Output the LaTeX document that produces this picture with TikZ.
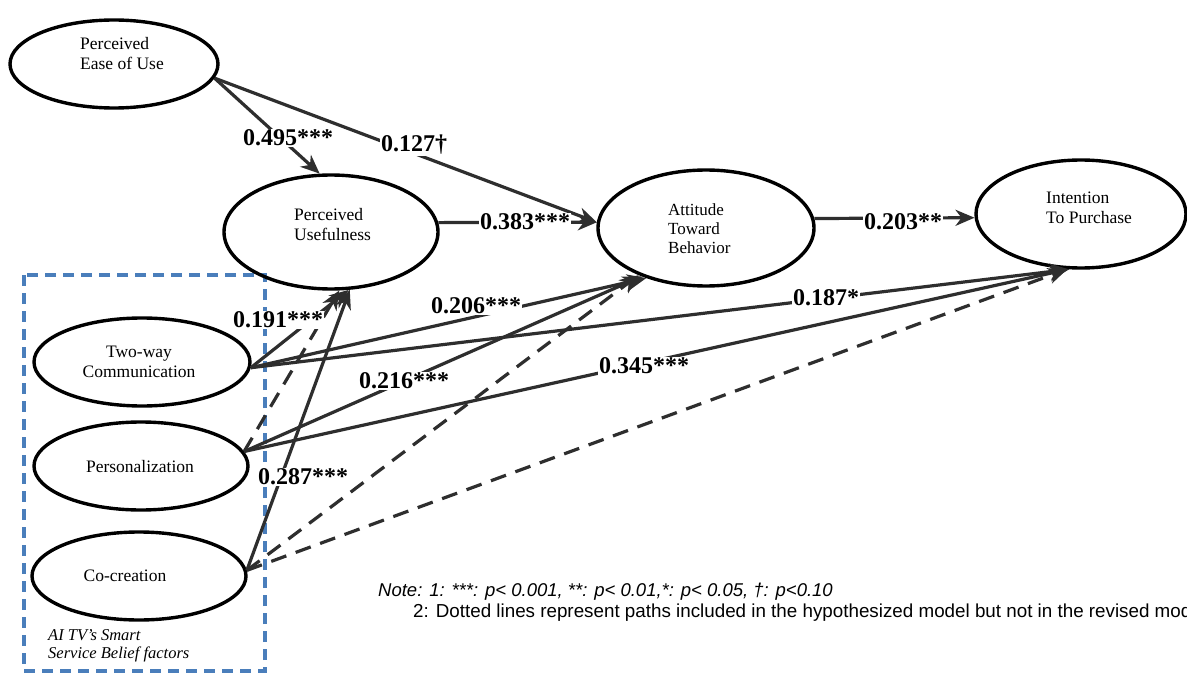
\documentclass[tikz,border=0pt]{standalone}
\usepackage{fontspec}
\setmainfont{Liberation Serif}
\setsansfont{Liberation Sans}
\usetikzlibrary{arrows.meta,shapes.geometric}
\definecolor{edgec}{HTML}{2E2E2E}
\definecolor{boxblue}{HTML}{4A7EBB}
\begin{document}
\begin{tikzpicture}[x=1pt,y=-1pt,
  cons/.style={draw=black, line width=3.4pt, ellipse, inner sep=0pt},
  txt/.style={font=\fontsize{17.5}{20}\selectfont, inner sep=0pt},
  sem/.style={draw=edgec, line width=3.2pt, -{Stealth[length=19pt,width=16pt,inset=6pt]}},
  hyp/.style={sem, dash pattern=on 16pt off 10pt},
  coef/.style={font=\fontsize{24}{26}\selectfont\bfseries, fill=white, inner sep=1pt},
  notefont/.style={font=\sffamily\fontsize{18.8}{21}\selectfont, inner sep=0pt, anchor=west}
]
\useasboundingbox (0,0) rectangle (1187,674);
\fill[white] (0,0) rectangle (1187,674);

% group box
\draw[boxblue, line width=3.2pt, dash pattern=on 11pt off 7pt] (24,275) rectangle (265,671);

% constructs
\node[cons, minimum width=208pt, minimum height=88pt]  (peou) at (114,64) {};
\node[cons, minimum width=214pt, minimum height=114pt] (pu)   at (331,232) {};
\node[cons, minimum width=216pt, minimum height=116pt] (att)  at (706,228) {};
\node[cons, minimum width=210pt, minimum height=108pt] (itp)  at (1081,214) {};
\node[cons, minimum width=216pt, minimum height=88pt]  (twc)  at (142,362) {};
\node[cons, minimum width=214pt, minimum height=88pt]  (per)  at (141,466) {};
\node[cons, minimum width=214pt, minimum height=88pt]  (coc)  at (139,576) {};

\node[txt, anchor=west, align=left] (peou-t) at (80,54) {Perceived\\Ease of Use};
\node[txt, anchor=west, align=left] (pu-t) at (294,225) {Perceived\\Usefulness};
\node[txt, anchor=west, align=left, font=\fontsize{17}{19}\selectfont] (att-t) at (668,229) {Attitude\\Toward\\Behavior};
\node[txt, anchor=west, align=left] (itp-t) at (1046,208) {Intention\\To Purchase};
\node[txt, align=center] (twc-t) at (139,362) {Two-way\\Communication};
\node[txt] (per-t) at (140,467) {Personalization};
\node[txt] (coc-t) at (125,576) {Co-creation};

\node[anchor=west, align=left, inner sep=0pt, font=\itshape\fontsize{16.5}{18}\selectfont] (cap) at (48,646) {AI TV’s Smart\\Service Belief factors};

% paths
\draw[sem] (peou.-8) -- (pu.101);
\draw[sem] (peou.-8) -- (att.177);
\draw[sem] (pu.5) -- (att.177);
\draw[sem] (att.5) -- (itp.182);

\draw[sem] (twc.-3) -- (pu.-73);
\draw[sem] (twc.-3) -- (att.-140);
\draw[sem] (twc.-3) -- (itp.-102);

\draw[hyp] (per.8) -- (pu.-82);
\draw[sem] (per.8) -- (att.-143);
\draw[sem] (per.8) -- (itp.-103);

\draw[sem] (coc.3) -- (pu.-72);
\draw[hyp] (coc.3) -- (att.-145);
\draw[hyp] (coc.3) -- (itp.-104);

% coefficients
\node[coef] (c1) at (288,138) {0.495***};
\node[coef] (c2) at (414,145) {0.127†};
\node[coef] (c3) at (525,222) {0.383***};
\node[coef] (c4) at (903,222) {0.203**};
\node[coef] (c5) at (278,320) {0.191***};
\node[coef] (c6) at (476,306) {0.206***};
\node[coef] (c7) at (826,298) {0.187*};
\node[coef] (c8) at (404,381) {0.216***};
\node[coef] (c9) at (644,366) {0.345***};
\node[coef] (c10) at (303,477) {0.287***};

% note
\node[notefont, font=\sffamily\itshape\fontsize{18.5}{21}\selectfont] (n1) at (378,592) {Note: 1: ***: p< 0.001, **: p< 0.01,*: p< 0.05, †: p<0.10};
\node[notefont] (n2) at (413,613) {2: Dotted lines represent paths included in the hypothesized model but not in the revised model.};
\end{tikzpicture}
\end{document}
